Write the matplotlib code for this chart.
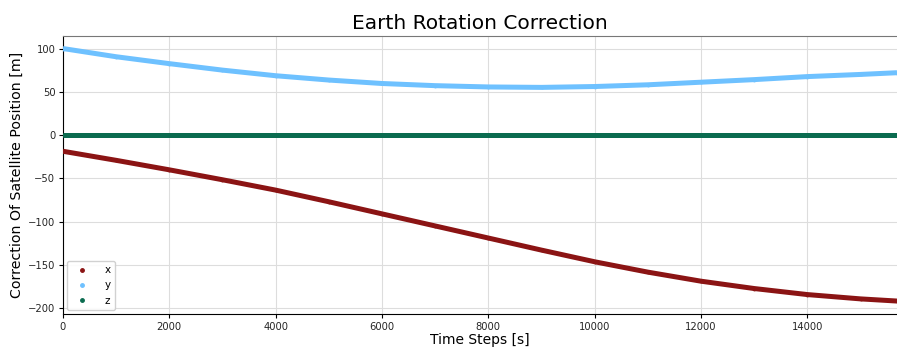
import matplotlib
matplotlib.use("Agg")
import matplotlib.pyplot as plt
from matplotlib.lines import Line2D

time_steps = [0, 1000, 2000, 3000, 4000, 5000, 6000, 7000, 8000, 9000, 10000,
              11000, 12000, 13000, 14000, 15000, 15686]
corr_x = [-18.5, -29, -40, -51.5, -63.5, -77, -91, -105, -119, -133, -146.5,
          -158.5, -169, -177.5, -184.5, -189.5, -192]
corr_y = [100.5, 91, 83, 75.5, 69, 64, 60, 57.5, 56, 55.5, 56.5,
          58.5, 61.5, 64.5, 68, 70.5, 72.5]
corr_z = [0.0] * len(time_steps)

series = [("x", corr_x, "#8b1414"), ("y", corr_y, "#6ec1ff"), ("z", corr_z, "#0b6b4f")]

fig = plt.figure(figsize=(8.97, 3.49), dpi=100)
ax = fig.add_axes([0.0702, 0.1003, 0.9298, 0.7965])

for name, vals, col in series:
    ax.plot(time_steps, vals, color=col, lw=3.6, solid_capstyle="butt", zorder=3)
    ax.scatter(time_steps, vals, color=col, s=3, zorder=3)

ax.set_xlim(0, 15686)
ax.set_ylim(-207, 115)
ax.set_xticks(range(0, 15000, 2000))
ax.set_yticks([-200, -150, -100, -50, 0, 50, 100])
ax.grid(True, color="#dddddd", lw=0.8)
ax.set_axisbelow(True)
ax.tick_params(labelsize=7.2, length=3, pad=2.5, labelcolor="#262626")
ax.spines["top"].set_color("#777777")
ax.spines["right"].set_visible(False)

ax.set_title("Earth Rotation Correction", fontsize=14.5, pad=5)
ax.set_xlabel("Time Steps [s]", fontsize=10, labelpad=1)
ax.set_ylabel("Correction Of Satellite Position [m]", fontsize=10.2, labelpad=3)

handles = [Line2D([], [], ls="none", marker="o", ms=2.5, color=c, label=n) for n, _, c in series]
ax.legend(handles=handles, loc="lower left", fontsize=7.5, framealpha=0.9,
          borderaxespad=0.4, handletextpad=1.2)

fig.savefig("out.png", dpi=100)
